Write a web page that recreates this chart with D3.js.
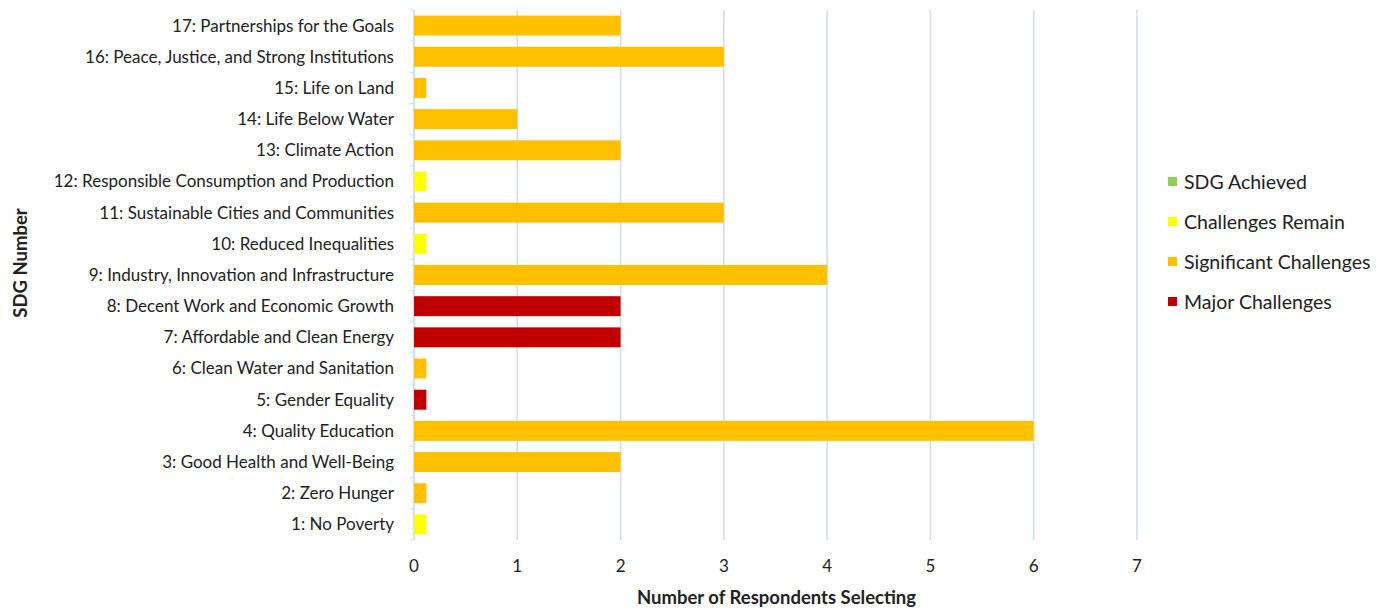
<!DOCTYPE html>
<html>
<head>
<meta charset="utf-8">
<script src="https://cdn.jsdelivr.net/npm/d3@7"></script>
<style>
  body { margin: 0; background: #fff; }
  text { font-family: Lato, "Open Sans", sans-serif; fill: #222; }
</style>
</head>
<body>
<div id="chart"></div>
<script>
// categories from top to bottom
const goals = [
    '17: Partnerships for the Goals',
    '16: Peace, Justice, and Strong Institutions',
    '15: Life on Land',
    '14: Life Below Water',
    '13: Climate Action',
    '12: Responsible Consumption and Production',
    '11: Sustainable Cities and Communities',
    '10: Reduced Inequalities',
    '9: Industry, Innovation and Infrastructure',
    '8: Decent Work and Economic Growth',
    '7: Affordable and Clean Energy',
    '6: Clean Water and Sanitation',
    '5: Gender Equality',
    '4: Quality Education',
    '3: Good Health and Well-Being',
    '2: Zero Hunger',
    '1: No Poverty'
];
const respondents = [2, 3, 0.12, 1, 2, 0.12, 3, 0.12, 4, 2, 2, 0.12, 0.12, 6, 2, 0.12, 0.12];
const status = [
    'Significant Challenges', 'Significant Challenges', 'Significant Challenges',
    'Significant Challenges', 'Significant Challenges', 'Challenges Remain',
    'Significant Challenges', 'Challenges Remain', 'Significant Challenges',
    'Major Challenges', 'Major Challenges', 'Significant Challenges',
    'Major Challenges', 'Significant Challenges', 'Significant Challenges',
    'Significant Challenges', 'Challenges Remain'
];
const statusNames = ['SDG Achieved', 'Challenges Remain', 'Significant Challenges', 'Major Challenges'];
const statusColors = ['#92D050', '#FFFF00', '#FFC000', '#C00000'];
const xTicks = [0, 1, 2, 3, 4, 5, 6, 7];

const W = 1384, H = 610;
const margin = {top: 10, right: 247, bottom: 70, left: 414};
const width = W - margin.left - margin.right;
const height = H - margin.top - margin.bottom;

const svg = d3.select('#chart').append('svg')
    .attr('width', W)
    .attr('height', H);

const g = svg.append('g')
    .attr('transform', `translate(${margin.left}, ${margin.top})`);

const x = d3.scaleLinear().domain([0, 7]).range([0, width]);
const y = d3.scaleBand().domain(goals).range([0, height]).paddingInner(0.36).paddingOuter(0.18);
const color = d3.scaleOrdinal().domain(statusNames).range(statusColors);

// gridlines
g.append('g')
    .selectAll('line')
    .data(xTicks)
    .join('line')
    .attr('x1', d => x(d))
    .attr('x2', d => x(d))
    .attr('y1', 0)
    .attr('y2', height)
    .attr('stroke', '#cfdcef')
    .attr('stroke-width', 1.5);

// y axis with small tick marks between categories
g.append('line')
    .attr('x1', 0).attr('x2', 0)
    .attr('y1', 0).attr('y2', height)
    .attr('stroke', '#cfdcef')
    .attr('stroke-width', 1.5);
g.append('g')
    .selectAll('line')
    .data(d3.range(goals.length + 1))
    .join('line')
    .attr('x1', -4).attr('x2', 0)
    .attr('y1', i => i * (height / goals.length))
    .attr('y2', i => i * (height / goals.length))
    .attr('stroke', '#cfdcef');

// bars
g.append('g')
    .selectAll('rect')
    .data(goals)
    .join('rect')
    .attr('x', x(0))
    .attr('y', d => y(d))
    .attr('width', (d, i) => x(respondents[i]) - x(0))
    .attr('height', y.bandwidth())
    .attr('fill', (d, i) => color(status[i]));

// category labels
g.append('g')
    .selectAll('text')
    .data(goals)
    .join('text')
    .attr('x', -20)
    .attr('y', d => y(d) + y.bandwidth() / 2)
    .attr('dy', '0.35em')
    .attr('text-anchor', 'end')
    .style('font-size', '17px')
    .text(d => d);

// x tick labels
g.append('g')
    .selectAll('text')
    .data(xTicks)
    .join('text')
    .attr('x', d => x(d))
    .attr('y', height + 32)
    .attr('text-anchor', 'middle')
    .style('font-size', '17px')
    .text(d => d);

// axis titles
svg.append('text')
    .attr('x', margin.left + x(3.51))
    .attr('y', 604)
    .attr('text-anchor', 'middle')
    .style('font-size', '18.5px')
    .style('font-weight', 'bold')
    .text('Number of Respondents Selecting');

svg.append('text')
    .attr('transform', 'translate(27, 263) rotate(-90)')
    .attr('text-anchor', 'middle')
    .style('font-size', '18.5px')
    .style('font-weight', 'bold')
    .text('SDG Number');

// legend
const legend = svg.append('g')
    .attr('transform', 'translate(1168, 182)');
const items = legend.selectAll('g')
    .data(statusNames)
    .join('g')
    .attr('transform', (d, i) => `translate(0, ${i * 40})`);
items.append('rect')
    .attr('x', 0).attr('y', -5)
    .attr('width', 9).attr('height', 9)
    .attr('fill', d => color(d));
items.append('text')
    .attr('x', 16)
    .attr('y', 0)
    .attr('dy', '0.35em')
    .style('font-size', '19.5px')
    .text(d => d);
</script>
</body>
</html>
